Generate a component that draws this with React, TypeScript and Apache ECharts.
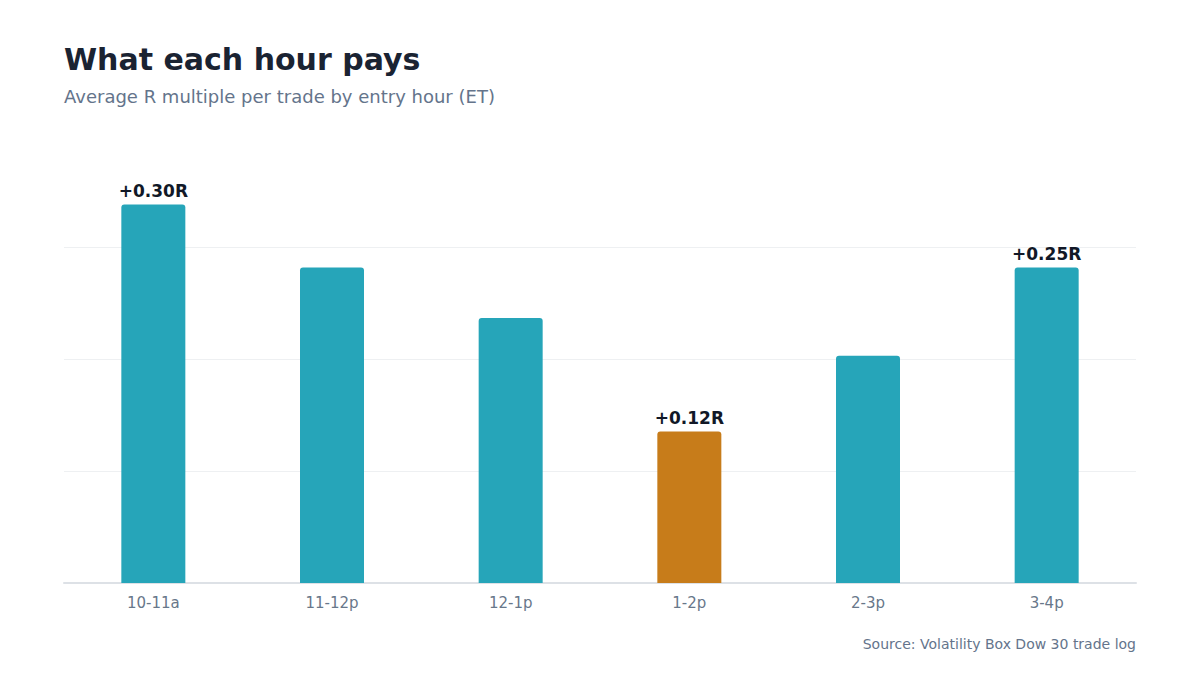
import React, { useEffect, useRef } from 'react'
import * as echarts from 'echarts'

const hours = ['10-11a', '11-12p', '12-1p', '1-2p', '2-3p', '3-4p']
const avgR = [0.30, 0.25, 0.21, 0.12, 0.18, 0.25]
const labelled = [0, 3, 5]
const weakest = 3

const TEAL = '#26a5b9'
const AMBER = '#c77c1a'

export default function App(): JSX.Element {
  const ref = useRef<HTMLDivElement>(null)

  useEffect(() => {
    document.body.style.margin = '0'
    if (!ref.current) return
    const chart = echarts.init(ref.current, undefined, { renderer: 'svg' })
    const font = 'DejaVu Sans'
    chart.setOption({
      animation: false,
      backgroundColor: '#ffffff',
      textStyle: { fontFamily: font },
      title: {
        text: 'What each hour pays',
        subtext: 'Average R multiple per trade by entry hour (ET)',
        left: 64 - 5, top: 44 - 5,
        itemGap: 13,
        textStyle: { fontSize: 30, fontWeight: 'bold', color: '#1a2332', fontFamily: font },
        subtextStyle: { fontSize: 18, color: '#64748b', fontFamily: font },
      },
      graphic: [{
        type: 'text', right: 64, top: 637,
        style: { text: 'Source: Volatility Box Dow 30 trade log', fill: '#64748b', font: `14px "${font}"`, textAlign: 'right' },
      }],
      grid: { left: 64, right: 64, top: 135, bottom: 92, containLabel: false },
      xAxis: {
        type: 'category', data: hours,
        axisLine: { lineStyle: { color: '#dde1e6', width: 2 } },
        axisTick: { show: false },
        axisLabel: { color: '#68778a', fontSize: 15, margin: 12, fontFamily: font },
      },
      yAxis: {
        type: 'value', min: 0, max: 0.355, interval: 0.08875,
        axisLabel: { show: false },
        axisLine: { show: false },
        axisTick: { show: false },
        splitLine: { show: true, showMaxLine: false, lineStyle: { color: '#eef0f2', width: 1 } },
      },
      series: [{
        type: 'bar', barWidth: 64,
        data: avgR.map((v, i) => ({
          value: v,
          itemStyle: { color: i === weakest ? AMBER : TEAL, borderRadius: [3, 3, 0, 0] },
          label: {
            show: labelled.includes(i), position: 'top', distance: 5,
            formatter: (p: any) => `+${Number(p.value).toFixed(2)}R`,
            fontSize: 17, fontWeight: 'bold', color: '#111827', fontFamily: font,
          },
        })),
      }],
    })
    return () => chart.dispose()
  }, [])

  return <div ref={ref} style={{ width: 1200, height: 675 }} />
}
